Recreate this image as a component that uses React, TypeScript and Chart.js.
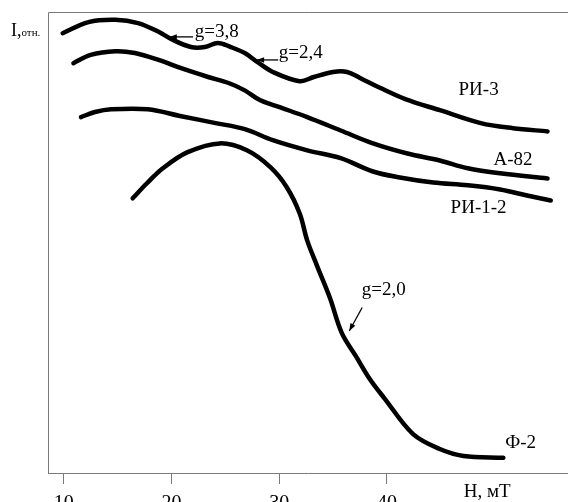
import React, { useEffect, useRef } from "react";
import { Chart, registerables } from "chart.js";

Chart.register(...registerables);

// Field H, mT (x) and relative intensity, arbitrary 0..100 (y)
const xTicks = [10, 20, 30, 40];

const ri3X = [9.9, 12.3, 14.8, 16.9, 18.8, 20.0, 21.8, 23.1, 24.3, 25.5, 26.8, 28.0, 29.4, 31.9, 33.2, 35.0, 36.3, 37.5, 39.4, 41.7, 44.9, 48.7, 51.7, 54.9];
const ri3Y = [95.4, 97.8, 98.3, 97.6, 95.7, 94.1, 92.4, 92.4, 93.3, 92.4, 91.1, 89.1, 87.0, 85.0, 85.9, 87.0, 87.0, 85.7, 83.5, 81.1, 78.7, 75.9, 74.8, 74.1];

const a82X = [10.9, 12.5, 14.8, 16.6, 18.8, 20.9, 23.4, 25.3, 26.8, 28.2, 30.1, 32.6, 35.7, 38.7, 41.9, 44.9, 47.5, 50.5, 54.9];
const a82Y = [88.9, 90.7, 91.5, 91.1, 89.6, 87.8, 85.9, 84.6, 83.0, 80.9, 79.3, 77.2, 74.3, 71.5, 69.3, 67.8, 66.1, 65.0, 63.9];

const ri12X = [11.6, 12.9, 14.4, 17.8, 20.9, 24.1, 26.8, 29.4, 32.6, 35.7, 38.7, 41.2, 44.3, 47.5, 50.5, 53.0, 55.2];
const ri12Y = [77.2, 78.3, 78.9, 78.9, 77.4, 75.9, 74.6, 72.2, 70.0, 68.3, 65.4, 64.1, 63.0, 62.4, 61.5, 60.2, 59.1];

const f2X = [16.4, 17.7, 19.2, 21.5, 24.5, 27.0, 29.2, 30.7, 31.9, 32.6, 33.5, 34.7, 35.8, 37.1, 38.4, 39.8, 42.4, 44.9, 47.1, 50.8];
const f2Y = [59.6, 62.8, 66.1, 69.6, 71.5, 70.0, 66.3, 62.0, 56.3, 50.4, 45.0, 38.0, 30.4, 25.4, 20.4, 16.1, 8.5, 5.2, 3.7, 3.3];

const seriesNames = ["РИ-3", "А-82", "РИ-1-2", "Ф-2"];

// text labels: [text, x, y]
const curveLabels: [string, number, number][] = [
  ["РИ-3", 48.5, 83.0],
  ["А-82", 51.7, 67.8],
  ["РИ-1-2", 48.5, 57.4],
  ["Ф-2", 52.4, 6.5],
  ["g=3,8", 24.2, 95.6],
  ["g=2,4", 32.0, 91.1],
  ["g=2,0", 39.7, 39.6],
];
// arrows: [x0, y0, x1, y1] (head at x1,y1)
const arrows: [number, number, number, number][] = [
  [22.0, 94.6, 19.8, 94.6],
  [29.9, 89.6, 27.9, 89.6],
  [37.7, 35.9, 36.5, 30.8],
];

const SERIF = '"Liberation Serif", "Times New Roman", serif';

const annotationPlugin = {
  id: "annotations",
  afterDraw(chart: any) {
    const { ctx, chartArea, scales } = chart;
    const xs = scales.x;
    const ys = scales.y;
    ctx.save();
    // frame: left axis and top line
    ctx.strokeStyle = "#7a7a7a";
    ctx.lineWidth = 1;
    ctx.beginPath();
    ctx.moveTo(chartArea.left + 0.5, chartArea.bottom);
    ctx.lineTo(chartArea.left + 0.5, chartArea.top + 0.5);
    ctx.lineTo(chartArea.right, chartArea.top + 0.5);
    ctx.stroke();

    ctx.fillStyle = "#000";
    ctx.textAlign = "center";
    ctx.textBaseline = "middle";
    ctx.font = `19px ${SERIF}`;
    for (const [t, vx, vy] of curveLabels) {
      ctx.fillText(t, xs.getPixelForValue(vx), ys.getPixelForValue(vy));
    }
    ctx.strokeStyle = "#000";
    ctx.lineWidth = 1.3;
    for (const [x0v, y0v, x1v, y1v] of arrows) {
      const x0 = xs.getPixelForValue(x0v);
      const y0 = ys.getPixelForValue(y0v);
      const x1 = xs.getPixelForValue(x1v);
      const y1 = ys.getPixelForValue(y1v);
      ctx.beginPath();
      ctx.moveTo(x0, y0);
      ctx.lineTo(x1, y1);
      ctx.stroke();
      const a = Math.atan2(y1 - y0, x1 - x0);
      const L = 8;
      ctx.beginPath();
      ctx.moveTo(x1, y1);
      ctx.lineTo(x1 - L * Math.cos(a - 0.35), y1 - L * Math.sin(a - 0.35));
      ctx.lineTo(x1 - L * Math.cos(a + 0.35), y1 - L * Math.sin(a + 0.35));
      ctx.closePath();
      ctx.fill();
    }

    // axis titles
    ctx.textAlign = "left";
    ctx.textBaseline = "alphabetic";
    ctx.font = `18px ${SERIF}`;
    ctx.fillText("I,", chartArea.left - 37, chartArea.top + 24);
    const w = ctx.measureText("I,").width;
    ctx.font = `11px ${SERIF}`;
    ctx.fillText("отн.", chartArea.left - 37 + w, chartArea.top + 24);

    ctx.font = `19px ${SERIF}`;
    ctx.textAlign = "center";
    ctx.fillText("H, мТ", xs.getPixelForValue(49.3), chartArea.bottom + 24);
    ctx.restore();
  },
};

export default function App() {
  const ref = useRef<HTMLCanvasElement | null>(null);
  useEffect(() => {
    if (!ref.current) return;
    const mk = (xa: number[], ya: number[]) => xa.map((x, i) => ({ x, y: ya[i] }));
    const all = [mk(ri3X, ri3Y), mk(a82X, a82Y), mk(ri12X, ri12Y), mk(f2X, f2Y)];
    const chart = new Chart(ref.current, {
      type: "line",
      data: {
        datasets: all.map((d, i) => ({
          label: seriesNames[i],
          data: d,
          borderColor: "#000",
          borderWidth: 4.5,
          pointRadius: 0,
          tension: 0.35,
          fill: false,
          borderCapStyle: "round",
          borderJoinStyle: "round",
        })),
      },
      options: {
        animation: false,
        responsive: false,
        devicePixelRatio: 1,
        layout: { padding: { left: 48, top: 12, right: 0, bottom: 0 } },
        plugins: { legend: { display: false }, tooltip: { enabled: false } },
        scales: {
          x: {
            type: "linear",
            min: 8.54,
            max: 56.8,
            afterBuildTicks: (s: any) => {
              s.ticks = xTicks.map((v) => ({ value: v }));
            },
            grid: { display: true, drawOnChartArea: false, drawTicks: true, tickLength: 11, color: "#7a7a7a", lineWidth: 1 },
            border: { display: true, color: "#7a7a7a", width: 1 },
            ticks: { color: "#000", padding: 8, maxRotation: 0, autoSkip: false, font: { family: SERIF, size: 20 } },
          },
          y: { type: "linear", min: 0, max: 100, display: false },
        },
      },
      plugins: [annotationPlugin],
    } as any);
    return () => chart.destroy();
  }, []);
  return (
    <div style={{ position: "fixed", left: 0, top: 0, width: 568, height: 502, overflow: "hidden", background: "#fff" }}>
      <canvas ref={ref} width={568} height={524} style={{ display: "block" }} />
    </div>
  );
}
